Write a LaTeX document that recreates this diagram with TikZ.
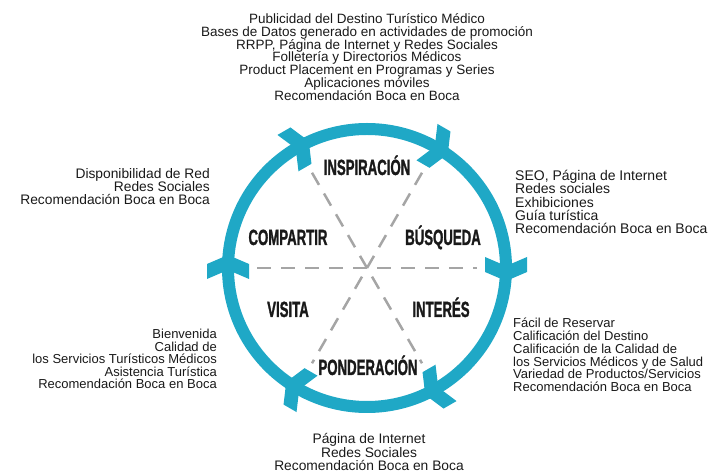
\documentclass[tikz,border=0pt]{standalone}
\usepackage{fontspec}
\setmainfont{Liberation Sans}
\newfontfamily\stagefont{Liberation Sans}[FakeStretch=0.6, FakeBold=1.2]
\usetikzlibrary{positioning}
\definecolor{ringblue}{RGB}{31,168,198}
\definecolor{dashgray}{RGB}{165,165,165}
\definecolor{textgray}{RGB}{25,25,25}
\tikzset{
  stage/.style={font=\stagefont\bfseries\fontsize{22}{22}\selectfont, text=textgray, inner sep=0pt, anchor=base},
  infoblock/.style={text=textgray, inner sep=0pt},
  dashline/.style={dashgray, line width=2.5pt, dash pattern=on 14pt off 10pt},
}

\begin{document}
\begin{tikzpicture}[x=1pt,y=1pt]
        \useasboundingbox (0,0) rectangle (723,474);
        \coordinate (c) at (367,206);
        % Dashed spokes
        \coordinate (w) at ([shift={(180:110)}]c);
        \coordinate (e) at ([shift={(0:110)}]c);
        \coordinate (nw) at ([shift={(120:110)}]c);
        \coordinate (se) at ([shift={(300:110)}]c);
        \coordinate (ne) at ([shift={(60:110)}]c);
        \coordinate (sw) at ([shift={(240:110)}]c);
        \draw[dashline] (w) -- (e);
        \draw[dashline] (nw) -- (se);
        \draw[dashline] (ne) -- (sw);
        % Ring with clockwise chevrons
        \draw[ringblue, line width=12pt] (c) circle[radius=139];
        \foreach \a in {0,60,...,300}
            \fill[ringblue, shift={(c)}, rotate=\a, shift={(139,0)}]
                (0,-13) -- (21,-4) -- (21,11) -- (0,2) -- (-21,11) -- (-21,-4) -- cycle;
        % Stages
        \node[stage] (insp) at (367,299) {INSPIRACIÓN};
        \node[stage] (busq) at (443,229) {BÚSQUEDA};
        \node[stage] (inter) at (441,157) {INTERÉS};
        \node[stage] (pond) at (368,99) {PONDERACIÓN};
        \node[stage] (visit) at (288,157) {VISITA};
        \node[stage] (comp) at (288,229) {COMPARTIR};
        % Channels
        \node[infoblock, align=center, font=\fontsize{13.5}{12.9}\selectfont] (promo) at (367,417)
            {Publicidad del Destino Turístico Médico\\Bases de Datos generado en actividades de promoción\\RRPP, Página de Internet y Redes Sociales\\Folletería y Directorios Médicos\\Product Placement en Programas y Series\\Aplicaciones móviles\\Recomendación Boca en Boca};
        \node[infoblock, align=right, anchor=east, font=\fontsize{13.8}{13}\selectfont] (red) at (210,287)
            {Disponibilidad de Red\\Redes Sociales\\Recomendación Boca en Boca};
        \node[infoblock, align=left, anchor=west, font=\fontsize{14}{13.3}\selectfont] (seo) at (515,272)
            {SEO, Página de Internet\\Redes sociales\\Exhibiciones\\Guía turística\\Recomendación Boca en Boca};
        \node[infoblock, align=left, anchor=west, font=\fontsize{13}{12.7}\selectfont] (reserva) at (513,119)
            {Fácil de Reservar\\Calificación del Destino\\Calificación de la Calidad de\\los Servicios Médicos y de Salud\\Variedad de Productos/Servicios\\Recomendación Boca en Boca};
        \node[infoblock, align=right, anchor=east, font=\fontsize{13}{12.4}\selectfont] (bienv) at (217,115)
            {Bienvenida\\Calidad de\\los Servicios Turísticos Médicos\\Asistencia Turística\\Recomendación Boca en Boca};
        \node[infoblock, align=center, font=\fontsize{13.8}{12.8}\selectfont] (web) at (369,22)
            {Página de Internet\\Redes Sociales\\Recomendación Boca en Boca};
\end{tikzpicture}
\end{document}
